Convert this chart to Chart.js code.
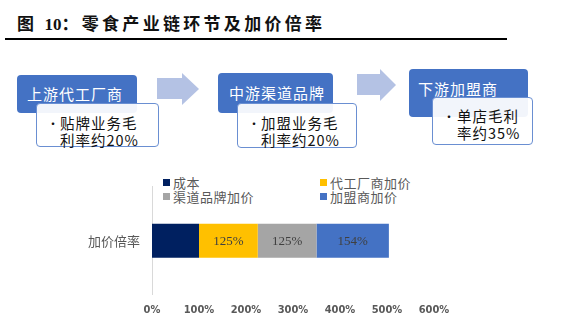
<!DOCTYPE html>
<html lang="zh">
<head>
<meta charset="UTF-8">
<title>零食产业链环节及加价倍率</title>
<script src="https://cdn.jsdelivr.net/npm/chart.js"></script>
<style>
  body { margin: 0; background: #fff; width: 561px; height: 316px; position: relative; overflow: hidden;
         font-family: "Noto Sans CJK SC", sans-serif; }
  .title { position: absolute; left: 17px; top: 12px; font-size: 17px; font-weight: bold; letter-spacing: 3.3px;
           color: #111; line-height: 22px; white-space: nowrap; }
  .title .num { font-family: "Liberation Serif", serif; letter-spacing: 0; }
  .rule { position: absolute; left: 5px; top: 38px; width: 502px; height: 2px; background: #000; }
  .head { position: absolute; background: #4472C4; border-radius: 4px; color: #fff; font-size: 15px;
          letter-spacing: 1px; white-space: nowrap; }
  .note { position: absolute; background: rgba(255,255,255,0.93); border: 1.5px solid #6A8FD2; border-radius: 4px;
          color: #111; font-size: 14.5px; line-height: 17px; letter-spacing: 1px; box-sizing: border-box; white-space: nowrap; }
  .note .b { position: absolute; font-size: 12px; }
  .note .t { position: absolute; }
  .arrow { position: absolute; }
  .legend { position: absolute; font-size: 13px; color: #595959; white-space: nowrap; letter-spacing: 0.5px; }
  .legend .sw { position: absolute; width: 7px; height: 7px; }
  .legend .tx { position: absolute; line-height: 14px; }
  #chartBox { position: absolute; left: 0; top: 167px; }
</style>
</head>
<body>
<div class="title">图 <span class="num">10</span>：零食产业链环节及加价倍率</div>
<div class="rule"></div>

<!-- 上游 -->
<div class="head" style="left:17px; top:75px; width:120px; height:38px;">
  <span style="position:absolute; left:10px; top:8px;">上游代工厂商</span></div>
<div class="note" style="left:36px; top:103px; width:123px; height:44px;">
  <span class="b" style="left:10px; top:11px;">•</span>
  <span class="t" style="left:23px; top:10px;">贴牌业务毛</span>
  <span class="t" style="left:23px; top:27px;">利率约20%</span></div>

<svg class="arrow" style="left:155px; top:71px;" width="48" height="36">
  <polygon points="2,7 27,7 27,2 44,18 27,34 27,28 2,28" fill="#B4C2E4"/></svg>

<!-- 中游 -->
<div class="head" style="left:218px; top:73px; width:115px; height:40px;">
  <span style="position:absolute; left:11px; top:9px;">中游渠道品牌</span></div>
<div class="note" style="left:237px; top:103px; width:120px; height:45px;">
  <span class="b" style="left:10px; top:11px;">•</span>
  <span class="t" style="left:23px; top:10px;">加盟业务毛</span>
  <span class="t" style="left:23px; top:27px;">利率约20%</span></div>

<svg class="arrow" style="left:355px; top:67px;" width="46" height="36">
  <polygon points="2,7 25,7 25,2 41,18 25,34 25,28 2,28" fill="#B4C2E4"/></svg>

<!-- 下游 -->
<div class="head" style="left:409px; top:69px; width:119px; height:48px;">
  <span style="position:absolute; left:9px; top:9px;">下游加盟商</span></div>
<div class="note" style="left:432px; top:97px; width:101px; height:48px;">
  <span class="b" style="left:10px; top:10px;">•</span>
  <span class="t" style="left:24px; top:9px;">单店毛利</span>
  <span class="t" style="left:24px; top:26px;">率约35%</span></div>

<div id="legend"></div>
<div id="chartBox"><canvas id="chart" width="561" height="160"></canvas></div>

<script>
    // データ
    const categories = ['加价倍率'];
    const seriesNames = ['成本', '代工厂商加价', '渠道品牌加价', '加盟商加价'];
    const seriesValues = [[100], [125], [125], [154]];
    const seriesShowLabel = [false, true, true, true];
    const seriesColors = ['#002060', '#FFC000', '#A5A5A5', '#4472C4'];
    const xMin = 0;
    const xMax = 600;
    const xStep = 100;

    // 凡例 (2列)
    const legendSlots = [[163, 176], [320, 176], [163, 190], [320, 190]];
    const legendEl = document.getElementById('legend');
    seriesNames.forEach(function(name, i) {
        const item = document.createElement('div');
        item.className = 'legend';
        item.style.left = legendSlots[i][0] + 'px';
        item.style.top = legendSlots[i][1] + 'px';
        item.innerHTML = '<span class="sw" style="left:0;top:3px;background:' + seriesColors[i] + '"></span>' +
                         '<span class="tx" style="left:10px;top:0">' + name + '</span>';
        legendEl.appendChild(item);
    });

    // バー内ラベル
    const barLabels = {
        id: 'barLabels',
        afterDatasetsDraw(chart) {
            const ctx = chart.ctx;
            ctx.save();
            ctx.font = '13px "Liberation Serif", serif';
            ctx.fillStyle = '#404040';
            ctx.textAlign = 'center';
            ctx.textBaseline = 'middle';
            chart.data.datasets.forEach(function(ds, i) {
                if (!seriesShowLabel[i]) return;
                chart.getDatasetMeta(i).data.forEach(function(bar, j) {
                    const c = bar.getCenterPoint();
                    ctx.fillText(ds.data[j] + '%', c.x, c.y + 1);
                });
            });
            ctx.restore();
        }
    };

    new Chart(document.getElementById('chart').getContext('2d'), {
        type: 'bar',
        data: {
            labels: categories,
            datasets: seriesNames.map(function(name, i) {
                return {
                    label: name,
                    data: seriesValues[i],
                    backgroundColor: seriesColors[i],
                    borderWidth: 0,
                    barPercentage: 0.63,
                    categoryPercentage: 0.5
                };
            })
        },
        options: {
            indexAxis: 'y',
            responsive: false,
            animation: false,
            layout: { padding: { left: 0, right: 127, top: 5, bottom: 1 } },
            plugins: { legend: { display: false }, tooltip: { enabled: false } },
            scales: {
                x: {
                    stacked: true, min: xMin, max: xMax,
                    grid: { display: false, drawTicks: false },
                    border: { display: false },
                    ticks: {
                        stepSize: xStep,
                        callback: function(v) { return v + '%'; },
                        color: '#595959',
                        font: { family: '"DejaVu Sans Condensed", "DejaVu Sans", sans-serif', size: 11, weight: 'bold' },
                        padding: 9
                    }
                },
                y: {
                    stacked: true,
                    grid: { display: false, drawTicks: false },
                    border: { display: true, color: '#D9D9D9', width: 1 },
                    ticks: {
                        color: '#595959',
                        font: { family: '"Noto Sans CJK SC", sans-serif', size: 13 },
                        padding: 12
                    },
                    afterFit: function(scale) { scale.width = 152; }
                }
            }
        },
        plugins: [barLabels]
    });
</script>
</body>
</html>
